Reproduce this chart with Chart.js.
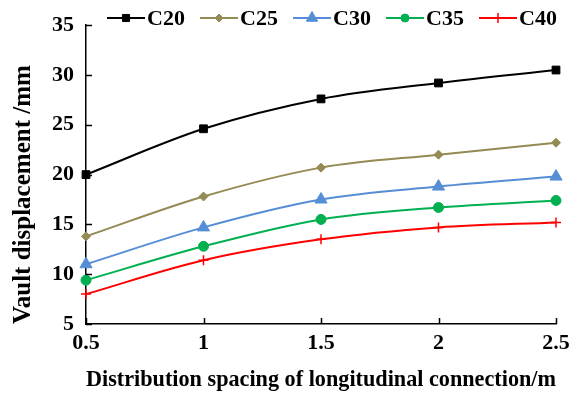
<!DOCTYPE html>
<html>
<head>
<meta charset="utf-8">
<script src="https://cdn.jsdelivr.net/npm/chart.js@4"></script>
<style>
  html, body { margin: 0; padding: 0; background: #fff; }
  #wrap { width: 583px; height: 398px; }
</style>
</head>
<body>
<div id="wrap"><canvas id="chart" width="583" height="398"></canvas></div>
<script>
// Data
const spacing = [0.5, 1, 1.5, 2, 2.5];
const seriesNames = ['C20', 'C25', 'C30', 'C35', 'C40'];
const c20 = [20.0, 24.6, 27.6, 29.2, 30.5];
const c25 = [13.8, 17.8, 20.7, 22.0, 23.2];
const c30 = [11.0, 14.7, 17.5, 18.8, 19.8];
const c35 = [9.4, 12.8, 15.5, 16.7, 17.4];
const c40 = [8.0, 11.4, 13.5, 14.7, 15.2];
const yTicks = [5, 10, 15, 20, 25, 30, 35];
const xTicks = [0.5, 1, 1.5, 2, 2.5];

const FONT = "'Liberation Serif', 'Times New Roman', serif";
Chart.defaults.font.family = FONT;
Chart.defaults.color = '#000';

// style per series
const styles = [
    { color: '#000000', point: 'rect', radius: 5.5, legendR: 5 },
    { color: '#948A54', point: 'rectRot', radius: 4.5, legendR: 4 },
    { color: '#558ED5', point: 'triangle', radius: 7, legendR: 6.5 },
    { color: '#00B050', point: 'circle', radius: 5, legendR: 4 },
    { color: '#FF0000', point: 'cross', radius: 5, legendR: 5 }
];
const allValues = [c20, c25, c30, c35, c40];

const datasets = allValues.map((vals, i) => ({
    label: seriesNames[i],
    data: spacing.map((x, j) => ({ x: x, y: vals[j] })),
    borderColor: styles[i].color,
    backgroundColor: styles[i].color,
    pointBackgroundColor: styles[i].color,
    pointBorderColor: styles[i].color,
    pointStyle: styles[i].point,
    pointRadius: styles[i].radius,
    pointBorderWidth: styles[i].point === 'cross' ? 1.5 : 1,
    borderWidth: 2,
    tension: 0.4,
    cubicInterpolationMode: 'monotone',
    fill: false,
    clip: false
}));

/* inward ticks + overlay legend */
const decor = {
    id: 'decor',
    afterDraw(chart) {
        const ctx = chart.ctx;
        const xs = chart.scales.x, ys = chart.scales.y;
        const area = chart.chartArea;
        ctx.save();
        ctx.strokeStyle = '#000';
        ctx.lineWidth = 1.5;
        ctx.beginPath();
        yTicks.forEach(v => {
            const py = Math.round(ys.getPixelForValue(v)) + 0.5;
            ctx.moveTo(area.left, py);
            ctx.lineTo(area.left + 6, py);
        });
        xTicks.forEach(v => {
            const px = Math.round(xs.getPixelForValue(v)) + 0.5;
            ctx.moveTo(px, area.bottom);
            ctx.lineTo(px, area.bottom - 6);
        });
        ctx.stroke();

        // legend, drawn over the top of the plot like the original
        const ly = 18;
        ctx.font = 'bold 22px ' + FONT;
        ctx.textBaseline = 'middle';
        chart.data.datasets.forEach((ds, i) => {
            const lx = 107 + i * 93;
            ctx.strokeStyle = ds.borderColor;
            ctx.fillStyle = ds.pointBackgroundColor;
            ctx.lineWidth = 2;
            ctx.beginPath();
            ctx.moveTo(lx, ly);
            ctx.lineTo(lx + 38, ly);
            ctx.stroke();
            ctx.lineWidth = ds.pointBorderWidth;
            Chart.helpers.drawPoint(ctx, {
                pointStyle: ds.pointStyle,
                radius: styles[i].legendR,
                borderWidth: ds.pointBorderWidth,
                rotation: 0
            }, lx + 19, ly);
            ctx.fillStyle = '#000';
            ctx.textAlign = 'left';
            ctx.fillText(ds.label, lx + 40, ly + 1);
        });
        ctx.restore();
    }
};

new Chart(document.getElementById('chart'), {
    type: 'line',
    data: { datasets: datasets },
    options: {
        responsive: false,
        animation: false,
        layout: { padding: { top: 24, right: 27, left: 0, bottom: 0 } },
        plugins: { legend: { display: false }, tooltip: { enabled: false } },
        scales: {
            x: {
                type: 'linear',
                min: 0.5,
                max: 2.5,
                afterBuildTicks: (scale) => { scale.ticks = xTicks.map(v => ({ value: v })); },
                grid: { display: false, drawTicks: false },
                border: { display: true, color: '#000', width: 1.5 },
                ticks: { font: { size: 22, weight: 'bold' }, padding: 6, maxRotation: 0, color: '#000',
                         callback: (v) => String(v) },
                title: { display: true, text: 'Distribution spacing of longitudinal connection/m',
                         font: { size: 22.5, weight: 'bold' }, color: '#000', padding: { top: 10 } },
                afterFit: (scale) => { scale.height = 74; }
            },
            y: {
                min: 5,
                max: 35,
                afterBuildTicks: (scale) => { scale.ticks = yTicks.map(v => ({ value: v })); },
                grid: { display: false, drawTicks: false },
                border: { display: true, color: '#000', width: 1.5 },
                ticks: { font: { size: 22, weight: 'bold' }, padding: 12, color: '#000' },
                title: { display: true, text: 'Vault displacement /mm', align: 'start',
                         font: { size: 25, weight: 'bold' }, color: '#000', padding: { top: 9, bottom: 0 } },
                afterFit: (scale) => { scale.width = 86; }
            }
        }
    },
    plugins: [decor]
});
</script>
</body>
</html>
